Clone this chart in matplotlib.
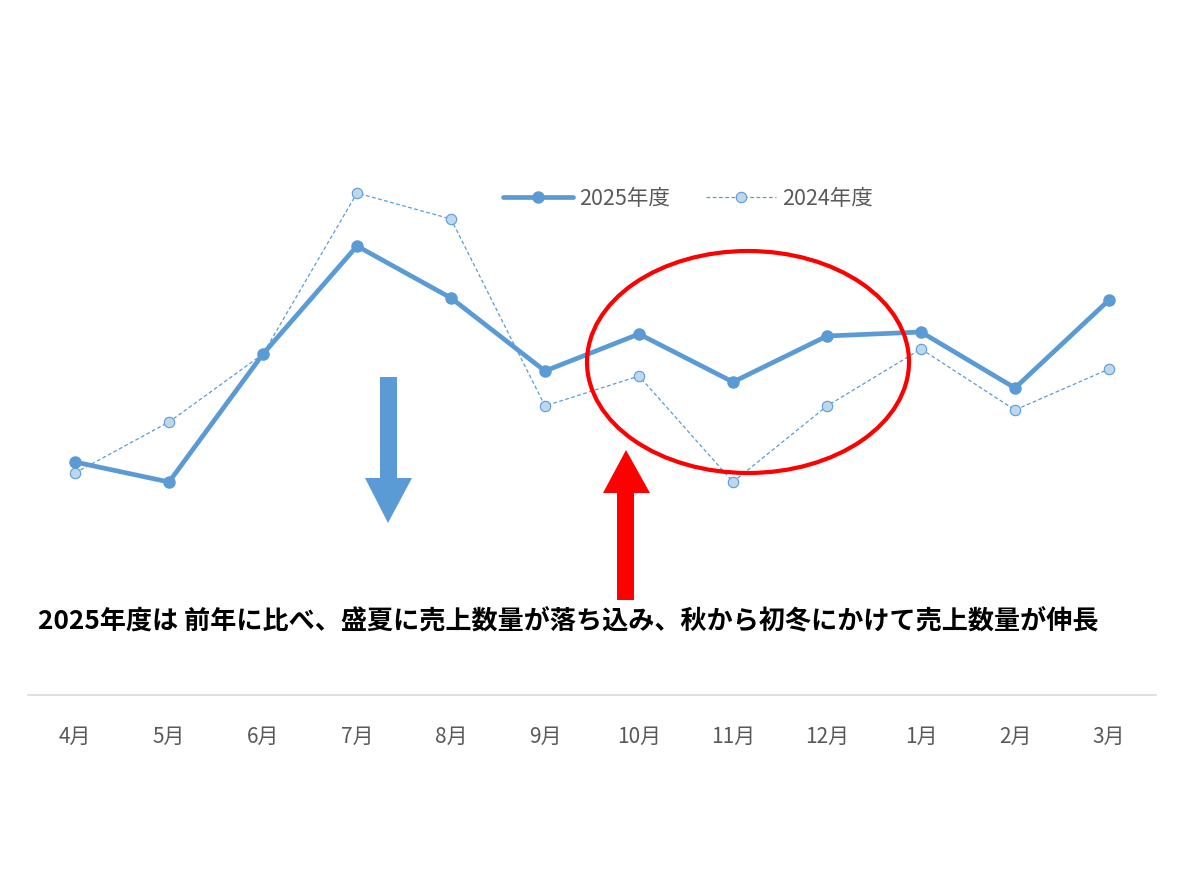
import matplotlib
matplotlib.use("Agg")
import matplotlib.pyplot as plt
from matplotlib.patches import Ellipse, Polygon

plt.rcParams['font.family'] = ['Noto Sans CJK JP', 'DejaVu Sans']

months = ['4月', '5月', '6月', '7月', '8月', '9月', '10月', '11月', '12月', '1月', '2月', '3月']
sales_2025 = [233, 213, 341, 449, 397, 324, 361, 313, 359, 363, 307, 395]
sales_2024 = [222, 273, 341, 502, 476, 289, 319, 213, 289, 346, 285, 326]
note = '2025年度は 前年に比べ、盛夏に売上数量が落ち込み、秋から初冬にかけて売上数量が伸長'

W, H = 1184, 888
blue = '#5B9BD5'
light = '#BDD7EE'
gray = '#595959'

fig = plt.figure(figsize=(W / 100, H / 100), dpi=100)
ax = fig.add_axes([28 / W, (H - 695) / H, 1128 / W, 595 / H])

x = list(range(len(months)))
ax.plot(x, sales_2025, color=blue, lw=3.4, marker='o', ms=8,
        mfc=blue, mec=blue, label='2025年度', solid_capstyle='round', zorder=3)
ax.plot(x, sales_2024, color=blue, lw=0.9, ls=(0, (3, 2)), marker='o', ms=7.5,
        mfc=light, mec=blue, mew=0.8, label='2024年度', zorder=2)

ax.set_xlim(-0.5, len(months) - 0.5)
ax.set_ylim(0, 595)
ax.set_xticks(x)
ax.set_xticklabels(months, fontsize=15, color=gray)
ax.tick_params(axis='x', length=0, pad=22)
ax.set_yticks([])
for side in ['top', 'left', 'right']:
    ax.spines[side].set_visible(False)
ax.spines['bottom'].set_color('#D9D9D9')
ax.spines['bottom'].set_linewidth(1.2)

leg = ax.legend(loc='center', bbox_to_anchor=(688 / W, 1 - 199 / H),
                bbox_transform=fig.transFigure, ncol=2, frameon=False,
                fontsize=15.5, handlelength=3.25, columnspacing=1.65,
                handletextpad=0.3)
for t in leg.get_texts():
    t.set_color(gray)

# overlay in pixel coordinates for the callout shapes
ov = fig.add_axes([0, 0, 1, 1], facecolor='none')
ov.set_xlim(0, W)
ov.set_ylim(H, 0)
ov.axis('off')

ov.add_patch(Ellipse((748, 362), 322, 222, fill=False, ec='#FF0000', lw=3, zorder=5))

down = [(380, 377), (397, 377), (397, 478), (412, 478), (388, 523),
        (365, 478), (380, 478)]
ov.add_patch(Polygon(down, closed=True, fc=blue, ec='none'))

up = [(617, 600), (634, 600), (634, 493), (650, 493), (626, 450),
      (603, 493), (617, 493)]
ov.add_patch(Polygon(up, closed=True, fc='#FF0000', ec='none'))

ov.text(38, 622, note, fontsize=18.8, fontweight='bold', color='black',
        ha='left', va='center')

fig.savefig('out.png', dpi=100)
